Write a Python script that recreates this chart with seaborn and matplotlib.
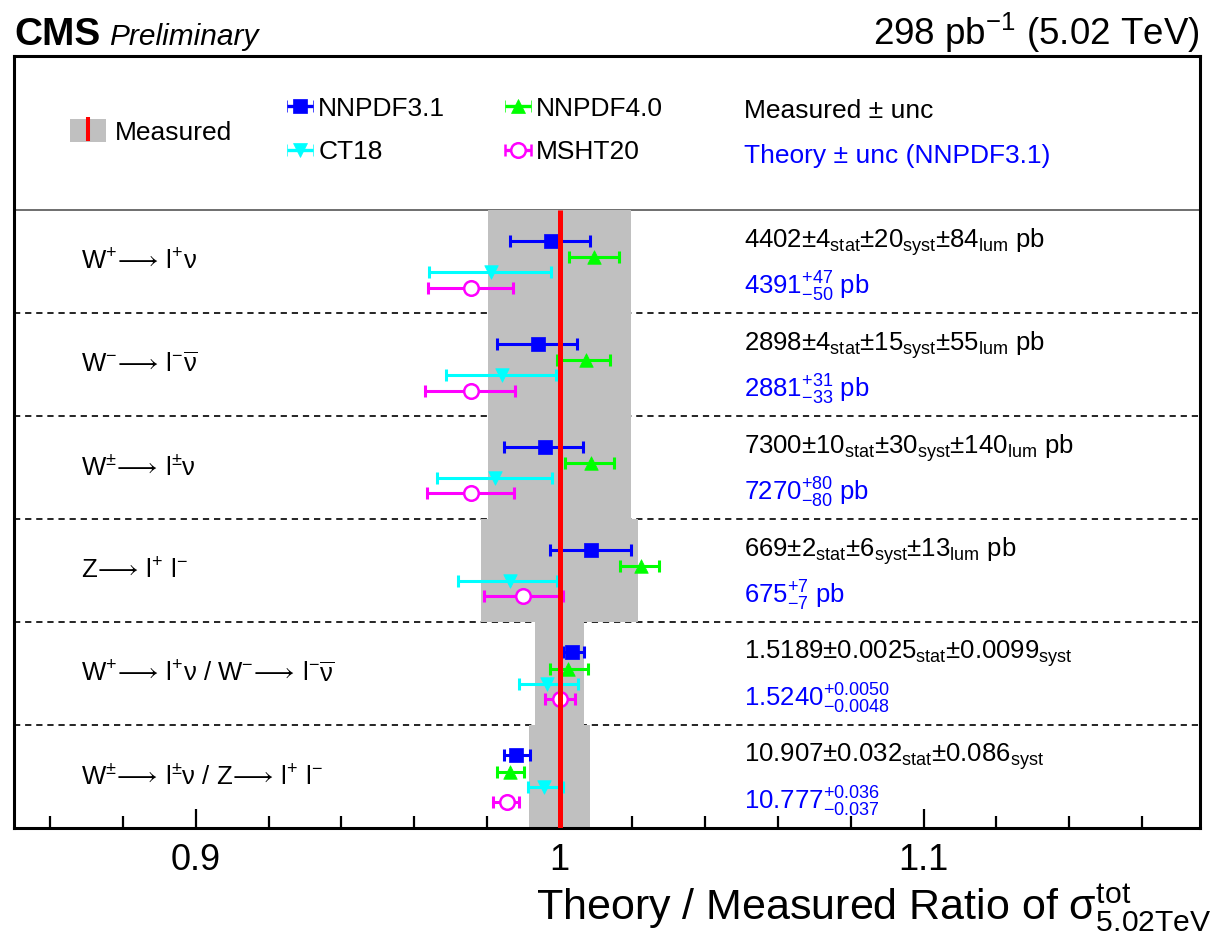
import numpy as np
import pandas as pd
import matplotlib
matplotlib.use("Agg")
import matplotlib.pyplot as plt
import seaborn as sns
from matplotlib.patches import Patch
from matplotlib.lines import Line2D
from matplotlib.legend_handler import HandlerTuple
from matplotlib.ticker import MultipleLocator, FixedLocator, FuncFormatter

# ---------------- data ----------------
ARROW = r"\!\longrightarrow\!"
channels = [
    r"W$^{+}" + ARROW + r"$ l$^{+}$ν",
    r"W$^{-}" + ARROW + r"$ l$^{-}$$\overline{\nu}$",
    r"W$^{\pm}" + ARROW + r"$ l$^{\pm}$ν",
    r"Z$" + ARROW + r"$ l$^{+}$ l$^{-}$",
    r"W$^{+}" + ARROW + r"$ l$^{+}$ν / W$^{-}" + ARROW + r"$ l$^{-}$$\overline{\nu}$",
    r"W$^{\pm}" + ARROW + r"$ l$^{\pm}$ν / Z$" + ARROW + r"$ l$^{+}$ l$^{-}$",
]
measured_text = [
    r"4402±4$_{stat}$±20$_{syst}$±84$_{lum}$ pb",
    r"2898±4$_{stat}$±15$_{syst}$±55$_{lum}$ pb",
    r"7300±10$_{stat}$±30$_{syst}$±140$_{lum}$ pb",
    r"669±2$_{stat}$±6$_{syst}$±13$_{lum}$ pb",
    r"1.5189±0.0025$_{stat}$±0.0099$_{syst}$",
    r"10.907±0.032$_{stat}$±0.086$_{syst}$",
]
theory_text = [
    r"$4391^{+47}_{-50}$ pb",
    r"$2881^{+31}_{-33}$ pb",
    r"$7270^{+80}_{-80}$ pb",
    r"$675^{+7}_{-7}$ pb",
    r"$1.5240^{+0.0050}_{-0.0048}$",
    r"$10.777^{+0.036}_{-0.037}$",
]
# relative total uncertainty of the measurement (grey band half width)
measured_unc = [0.0196, 0.0197, 0.0197, 0.0216, 0.0067, 0.0084]

pdf_names = ["NNPDF3.1", "NNPDF4.0", "CT18", "MSHT20"]
nnpdf31_ratio = [0.9975, 0.9941, 0.9959, 1.0085, 1.0034, 0.9881]
nnpdf31_lo    = [0.0113, 0.0113, 0.0112, 0.0113, 0.0026, 0.0034]
nnpdf31_hi    = [0.0107, 0.0107, 0.0106, 0.0110, 0.0034, 0.0038]
nnpdf40_ratio = [1.0093, 1.0072, 1.0086, 1.0224, 1.0024, 0.9864]
nnpdf40_lo    = [0.0067, 0.0080, 0.0071, 0.0057, 0.0050, 0.0035]
nnpdf40_hi    = [0.0070, 0.0067, 0.0062, 0.0050, 0.0053, 0.0038]
ct18_ratio    = [0.9810, 0.9841, 0.9822, 0.9864, 0.9965, 0.9958]
ct18_lo       = [0.0168, 0.0154, 0.0158, 0.0143, 0.0078, 0.0046]
ct18_hi       = [0.0165, 0.0149, 0.0157, 0.0128, 0.0084, 0.0050]
msht20_ratio  = [0.9755, 0.9756, 0.9756, 0.9900, 1.0000, 0.9855]
msht20_lo     = [0.0117, 0.0126, 0.0122, 0.0108, 0.0040, 0.0037]
msht20_hi     = [0.0116, 0.0121, 0.0117, 0.0109, 0.0041, 0.0034]

x_ticklabels = ["0.9", "1", "1.1"]

# ---------------- style ----------------
sns.set_theme(style="ticks")
plt.rcParams["font.family"] = ["Liberation Sans", "DejaVu Sans"]
plt.rcParams["mathtext.fontset"] = "custom"
plt.rcParams["mathtext.rm"] = "Liberation Sans"
plt.rcParams["mathtext.it"] = "Liberation Sans:italic"
plt.rcParams["mathtext.bf"] = "Liberation Sans:bold"
plt.rcParams["mathtext.sf"] = "Liberation Sans"
plt.rcParams["mathtext.default"] = "regular"
plt.rcParams["mathtext.fallback"] = "stix"
plt.rcParams["lines.scale_dashes"] = False
for key in ["text.color", "axes.labelcolor", "xtick.color", "ytick.color", "axes.edgecolor"]:
    plt.rcParams[key] = "black"

W, H = 1219, 940
fig = plt.figure(figsize=(W / 100, H / 100), dpi=100)
ax = fig.add_axes([14 / W, 1 - 828 / H, 1186 / W, 772 / H])
ax.set_xlim(0.85, 1.176)
ax.set_ylim(0, 7.5)

n = len(channels)
row_center = np.array([n - 0.5 - i for i in range(n)])
row_top = row_center + 0.5

# measured band
unc = np.array(measured_unc)
ax.barh(row_center, 2 * unc, left=1 - unc, height=1.0, color="#c0c0c0",
        linewidth=0, zorder=1)
# red line
ax.plot([1, 1], [0, n], color="#ff0000", lw=3.6, zorder=10, solid_capstyle="butt")

# separators
for k in range(1, n):
    ax.axhline(k, color="black", lw=1.2, ls=(0, (4.5, 3.5)), zorder=0.5)
ax.axhline(n, color="#555555", lw=1.2, zorder=0.5)

# theory points
pdf_data = {
    "NNPDF3.1": (nnpdf31_ratio, nnpdf31_lo, nnpdf31_hi),
    "NNPDF4.0": (nnpdf40_ratio, nnpdf40_lo, nnpdf40_hi),
    "CT18": (ct18_ratio, ct18_lo, ct18_hi),
    "MSHT20": (msht20_ratio, msht20_lo, msht20_hi),
}
pdf_style = {
    "NNPDF3.1": dict(color="#0000ff", marker="s", s=92, face="#0000ff", frac=0.295),
    "NNPDF4.0": dict(color="#00ff00", marker="^", s=95, face="#00ff00", frac=0.452),
    "CT18": dict(color="#00ffff", marker="v", s=95, face="#00ffff", frac=0.600),
    "MSHT20": dict(color="#ff00ff", marker="o", s=110, face="white", frac=0.750),
}
handles = {}
for name in pdf_names:
    r, lo, hi = pdf_data[name]
    st = pdf_style[name]
    y = row_top - st["frac"]
    ax.errorbar(r, y, xerr=[lo, hi], fmt="none", ecolor=st["color"],
                elinewidth=2.2, capsize=4.5, capthick=2.2, zorder=4)
    mew = 1.8 if name == "MSHT20" else 0.5
    sns.scatterplot(x=r, y=y, marker=st["marker"], s=st["s"], color=st["face"],
                    edgecolor=st["color"], linewidth=mew, zorder=5, legend=False, ax=ax)
    # invisible errorbar used only as a legend handle (shows caps like the original)
    handles[name] = ax.errorbar([np.nan], [np.nan], xerr=[[0.01], [0.01]],
                                fmt=st["marker"], color=st["color"],
                                markersize=np.sqrt(st["s"]), markerfacecolor=st["face"],
                                markeredgecolor=st["color"], markeredgewidth=mew,
                                elinewidth=2.4, capsize=4.0, capthick=2.4)

# row labels and texts
ytr = ax.get_yaxis_transform()
for i in range(n):
    ax.text(0.0565, row_center[i], channels[i], transform=ytr,
            fontsize=18.5, ha="left", va="center")
    ax.text(0.6155, row_top[i] - 0.31, measured_text[i], transform=ytr,
            fontsize=18.5, ha="left", va="center", color="black")
    ax.text(0.6155, row_top[i] - 0.745, theory_text[i], transform=ytr,
            fontsize=18.5, ha="left", va="center", color="#0000ff")

# header texts
ax.text(0.6155, 6.97, "Measured ± unc", transform=ytr,
        fontsize=19, ha="left", va="center")
ax.text(0.6155, 6.53, "Theory ± unc (NNPDF3.1)", transform=ytr,
        fontsize=19, ha="left", va="center", color="#0000ff")

# legends
meas_handle = (Patch(facecolor="#c0c0c0", edgecolor="none"),
               Line2D([], [], color="#ff0000", marker="|", markersize=17.8,
                      markeredgewidth=2.9, linestyle="none"))
leg1 = ax.legend([meas_handle], ["Measured"], handler_map={tuple: HandlerTuple(ndivide=1)},
                 loc="center left", bbox_to_anchor=(0.0468, 0.9016), frameon=False,
                 fontsize=19, handlelength=1.37, handleheight=0.94, handletextpad=0.36,
                 borderpad=0, borderaxespad=0)
ax.add_artist(leg1)
order = ["NNPDF3.1", "CT18", "NNPDF4.0", "MSHT20"]
ax.legend([handles[k] for k in order], order, ncol=2, loc="center left",
          bbox_to_anchor=(0.2298, 0.9035), frameon=False, fontsize=19,
          handlelength=1.0, handletextpad=0.2, columnspacing=2.25, labelspacing=0.75,
          borderpad=0, borderaxespad=0)

# axes styling
for sp in ax.spines.values():
    sp.set_linewidth(2.2)
    sp.set_color("black")
ax.set_yticks([])
ax.xaxis.set_major_locator(FixedLocator([0.9, 1.0, 1.1]))
ax.xaxis.set_major_formatter(FuncFormatter(
    lambda v, p: {0.9: x_ticklabels[0], 1.0: x_ticklabels[1], 1.1: x_ticklabels[2]}.get(round(v, 3), "")))
ax.xaxis.set_minor_locator(MultipleLocator(0.02))
ax.tick_params(axis="x", which="major", direction="in", length=14, width=1.6,
               labelsize=26, pad=11, color="black", bottom=True, top=False)
ax.tick_params(axis="x", which="minor", direction="in", length=8.5, width=1.6,
               color="black", bottom=True, top=False)
ax.set_xlabel(r"Theory / Measured Ratio of $\sigma^{tot}_{5.02TeV}$", fontsize=31, loc="right")
ax.xaxis.label.set_verticalalignment("baseline")
ax.xaxis.set_label_coords(1.0101, -(920 - 828) / 772)

# CMS labels
ax.text(0.0, 1.014, "CMS", transform=ax.transAxes, fontsize=28, fontweight="bold",
        ha="left", va="baseline")
ax.text(0.0805, 1.014, "Preliminary", transform=ax.transAxes, fontsize=21.5,
        style="italic", ha="left", va="baseline")
ax.text(1.0, 1.014, r"298 pb$^{-1}$ (5.02 TeV)", transform=ax.transAxes, fontsize=26.5,
        ha="right", va="baseline")

fig.savefig("out.png", dpi=100)
